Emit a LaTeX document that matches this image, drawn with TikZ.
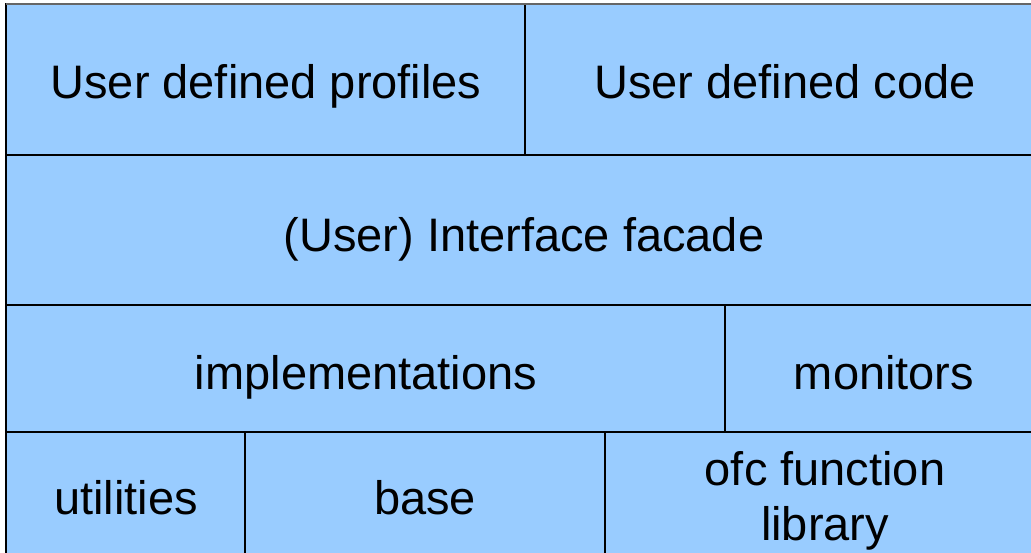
\documentclass[tikz,border=0pt]{standalone}
\usepackage{fontspec}
\setmainfont{Liberation Sans}
\definecolor{layerblue}{HTML}{99CCFF}
\begin{document}
\begin{tikzpicture}[x=1pt,y=-1pt,
  cell/.style={fill=layerblue,draw=black,line width=1.6pt},
  txt/.style={anchor=base,inner sep=0pt,font=\fontsize{47}{55}\selectfont}]
\useasboundingbox[fill=white] (0,0) rectangle (1031,553);
% layer stack, top to bottom
\draw[cell] (6,4) rectangle (525,155);
\draw[cell] (525,4) rectangle (1045,155);
\draw[cell] (6,155) rectangle (1045,305);
\draw[cell] (6,305) rectangle (725,432);
\draw[cell] (725,305) rectangle (1045,432);
\draw[cell] (6,432) rectangle (245,565);
\draw[cell] (245,432) rectangle (605,565);
\draw[cell] (605,432) rectangle (1045,565);
\draw[draw=black!60,line width=1.6pt] (6,4) -- (1031,4);
% layer labels
\node[txt] (profiles) at (266,99) {User defined profiles};
\node[txt] (code) at (785,99) {User defined code};
\node[txt] (facade) at (524,252) {(User) Interface facade};
\node[txt] (impl) at (366,389) {implementations};
\node[txt] (mon) at (884,389) {monitors};
\node[txt] (util) at (126,514) {utilities};
\node[txt] (base) at (425,514) {base};
\node[txt] (ofc) at (825,485) {ofc function};
\node[txt] (lib) at (825,540) {library};
\end{tikzpicture}
\end{document}
